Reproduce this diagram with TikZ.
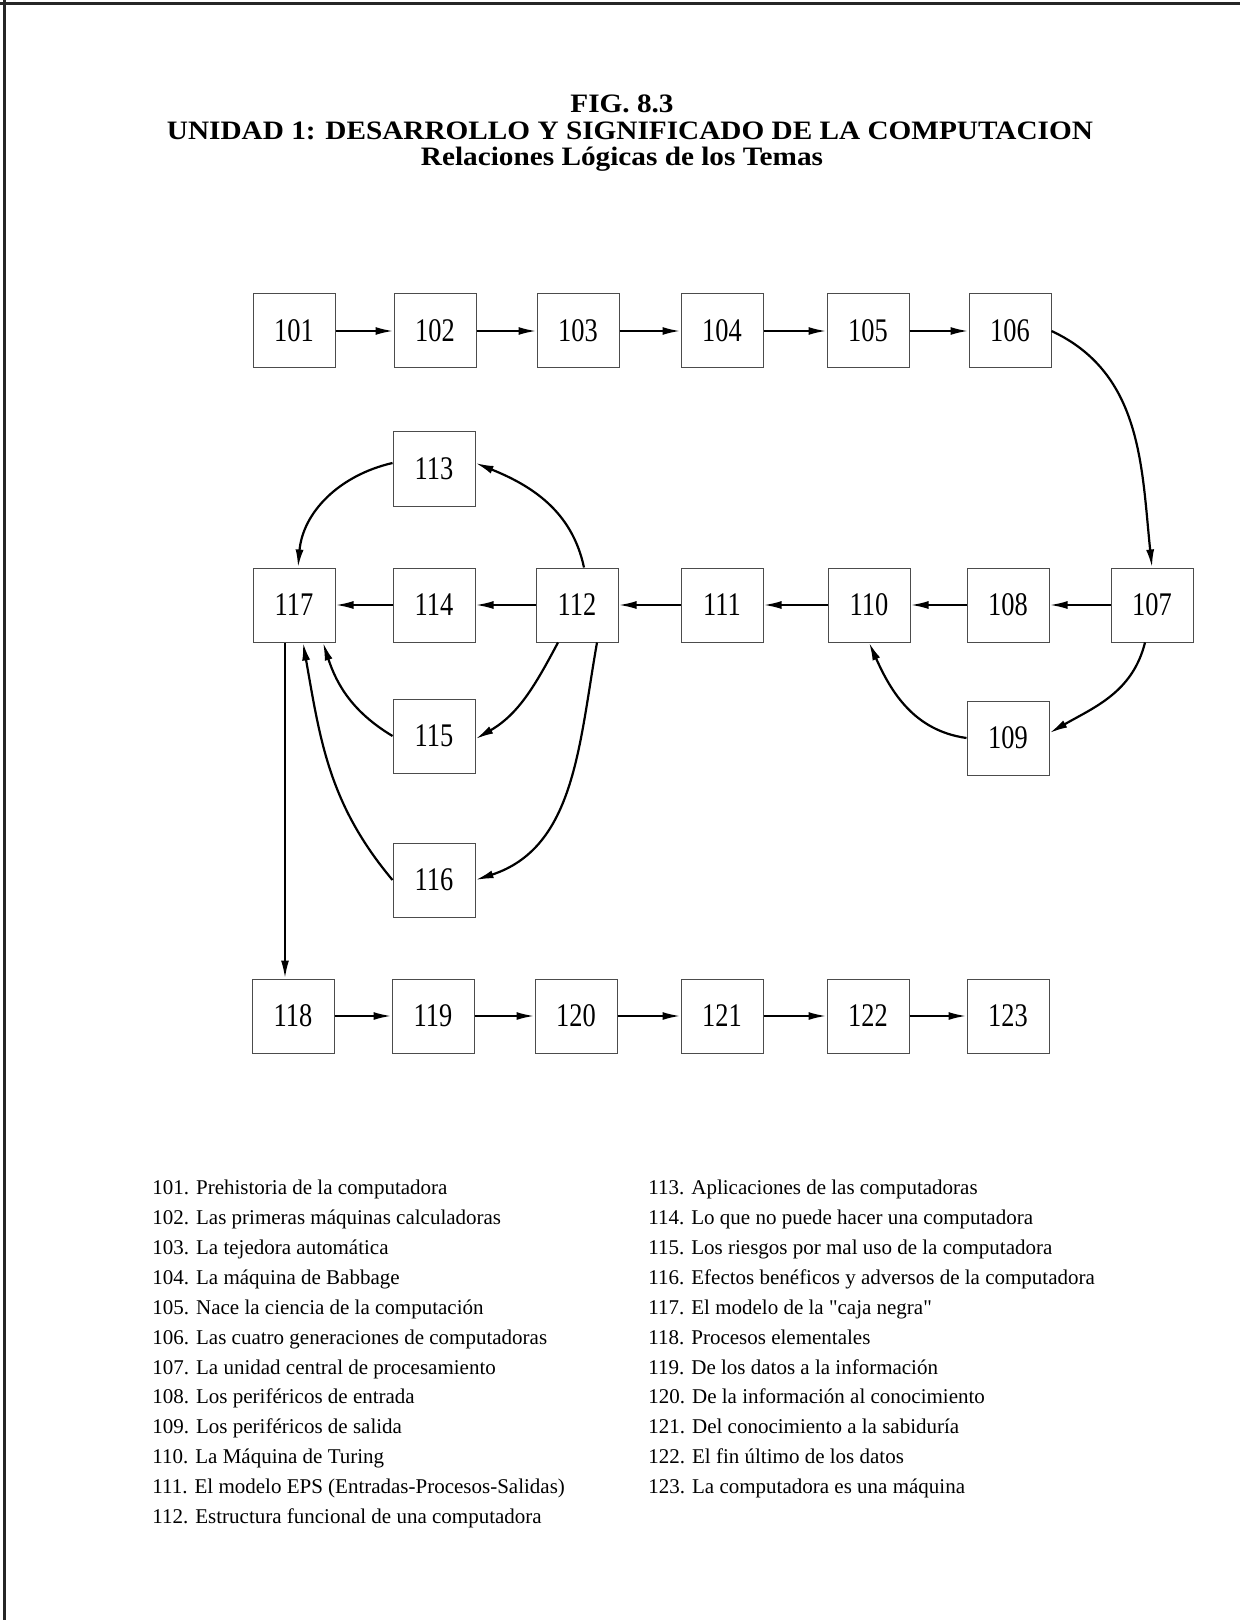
\documentclass[tikz,border=0pt]{standalone}
\usepackage{fontspec}
\setmainfont{Liberation Serif}
\newfontfamily\numfont{Liberation Serif}[FakeStretch=0.8]
\newfontfamily\ttlfont{Liberation Serif}[FakeStretch=1.1]
\newfontfamily\qfont{Liberation Serif}[Ligatures=TeXOff]
\usetikzlibrary{arrows.meta,calc}
\begin{document}
\begin{tikzpicture}[x=0.5pt,y=0.5pt,
  topic/.style={draw=black!70, line width=0.5pt, minimum width=41pt, minimum height=37pt, inner sep=0pt, font=\numfont\fontsize{16.5}{16.5}\selectfont},
  link/.style={line width=1.1pt, -{Latex[length=9pt,width=4pt]}},
  leg/.style={anchor=mid west, inner sep=0pt, font=\fontsize{10.5}{12}\selectfont},
  ttl/.style={anchor=base, inner sep=0pt, font=\ttlfont\bfseries\fontsize{13.3}{14}\selectfont},
  frame/.style={line width=1.5pt, black!85}
]
\useasboundingbox (0,0) rectangle (1240,-1620);
% page frame (top and left edges)
\draw[frame] (0,-4) -- (1240,-4);
\draw[frame] (4,0) -- (4,-1620);

% titles
\node[ttl] (t1) at (622,-113) {FIG. 8.3};
\node[ttl] (t2) at (630,-140) {UNIDAD 1: DESARROLLO Y SIGNIFICADO DE LA COMPUTACION};
\node[ttl] (t3) at (622,-166) {Relaciones Lógicas de los Temas};

% top row
\node[topic] (n101) at (294,-331) {101};
\node[topic] (n102) at (435,-331) {102};
\node[topic] (n103) at (578,-331) {103};
\node[topic] (n104) at (722,-331) {104};
\node[topic] (n105) at (868,-331) {105};
\node[topic] (n106) at (1010,-331) {106};

% middle
\node[topic] (n113) at (434,-469) {113};
\node[topic] (n117) at (294,-605) {117};
\node[topic] (n114) at (434,-605) {114};
\node[topic] (n112) at (577,-605) {112};
\node[topic] (n111) at (722,-605) {111};
\node[topic] (n110) at (869,-605) {110};
\node[topic] (n108) at (1008,-605) {108};
\node[topic] (n107) at (1152,-605) {107};
\node[topic] (n115) at (434,-736) {115};
\node[topic] (n109) at (1008,-738) {109};
\node[topic] (n116) at (434,-880) {116};

% bottom row
\node[topic] (n118) at (293,-1016) {118};
\node[topic] (n119) at (433,-1016) {119};
\node[topic] (n120) at (576,-1016) {120};
\node[topic] (n121) at (722,-1016) {121};
\node[topic] (n122) at (868,-1016) {122};
\node[topic] (n123) at (1008,-1016) {123};

% straight connectors
\draw[link] (n101.east) -- (n102.west);
\draw[link] (n102.east) -- (n103.west);
\draw[link] (n103.east) -- (n104.west);
\draw[link] (n104.east) -- (n105.west);
\draw[link] (n105.east) -- (n106.west);

\draw[link] (n107.west) -- (n108.east);
\draw[link] (n108.west) -- (n110.east);
\draw[link] (n110.west) -- (n111.east);
\draw[link] (n111.west) -- (n112.east);
\draw[link] (n112.west) -- (n114.east);
\draw[link] (n114.west) -- (n117.east);

\draw[link] (n118.east) -- (n119.west);
\draw[link] (n119.east) -- (n120.west);
\draw[link] (n120.east) -- (n121.west);
\draw[link] (n121.east) -- (n122.west);
\draw[link] (n122.east) -- (n123.west);

% curved connectors
\draw[link] (n106.east) to[out=-25,in=96] (n107.north);
\draw[link] ($(n107.south)+(-7,0)$) to[out=-104,in=30] ($(n109.east)+(0,5)$);
\draw[link] (n109.west) to[out=172,in=-66] (n110.south);
\draw[link] ($(n112.north)+(7,0)$) to[out=102,in=-22] ($(n113.east)+(0,6)$);
\draw[link] ($(n113.west)+(0,6)$) to[out=193,in=85] ($(n117.north)+(4,0)$);
\draw[link] ($(n112.south)+(-19,0)$) to[out=-118,in=30] ($(n115.east)+(0,-3)$);
\draw[link] (n115.west) to[out=149,in=-72] ($(n117.south)+(29,0)$);
\draw[link] ($(n112.south)+(20,0)$) to[out=-100,in=18] (n116.east);
\draw[link] (n116.west) to[out=130,in=-80] ($(n117.south)+(9,0)$);
\draw[link] ($(n117.south)+(-9,0)$) -- ($(n118.north)+(-8,0)$);

% legend, left column
\node[leg] (l101) at (152,-1190) {101. Prehistoria de la computadora};
\node[leg] (l102) at (152,-1219.9) {102. Las primeras máquinas calculadoras};
\node[leg] (l103) at (152,-1249.8) {103. La tejedora automática};
\node[leg] (l104) at (152,-1279.7) {104. La máquina de Babbage};
\node[leg] (l105) at (152,-1309.6) {105. Nace la ciencia de la computación};
\node[leg] (l106) at (152,-1339.5) {106. Las cuatro generaciones de computadoras};
\node[leg] (l107) at (152,-1369.4) {107. La unidad central de procesamiento};
\node[leg] (l108) at (152,-1399.3) {108. Los periféricos de entrada};
\node[leg] (l109) at (152,-1429.2) {109. Los periféricos de salida};
\node[leg] (l110) at (152,-1459.1) {110. La Máquina de Turing};
\node[leg] (l111) at (152,-1489) {111. El modelo EPS (Entradas-Procesos-Salidas)};
\node[leg] (l112) at (152,-1518.9) {112. Estructura funcional de una computadora};

% legend, right column
\node[leg] (l113) at (648,-1190) {113. Aplicaciones de las computadoras};
\node[leg] (l114) at (648,-1219.9) {114. Lo que no puede hacer una computadora};
\node[leg] (l115) at (648,-1249.8) {115. Los riesgos por mal uso de la computadora};
\node[leg] (l116) at (648,-1279.7) {116. Efectos benéficos y adversos de la computadora};
\node[leg] (l117) at (648,-1309.6) {117. El modelo de la {\qfont"}caja negra{\qfont"}};
\node[leg] (l118) at (648,-1339.5) {118. Procesos elementales};
\node[leg] (l119) at (648,-1369.4) {119. De los datos a la información};
\node[leg] (l120) at (648,-1399.3) {120. De la información al conocimiento};
\node[leg] (l121) at (648,-1429.2) {121. Del conocimiento a la sabiduría};
\node[leg] (l122) at (648,-1459.1) {122. El fin último de los datos};
\node[leg] (l123) at (648,-1489) {123. La computadora es una máquina};
\end{tikzpicture}
\end{document}
